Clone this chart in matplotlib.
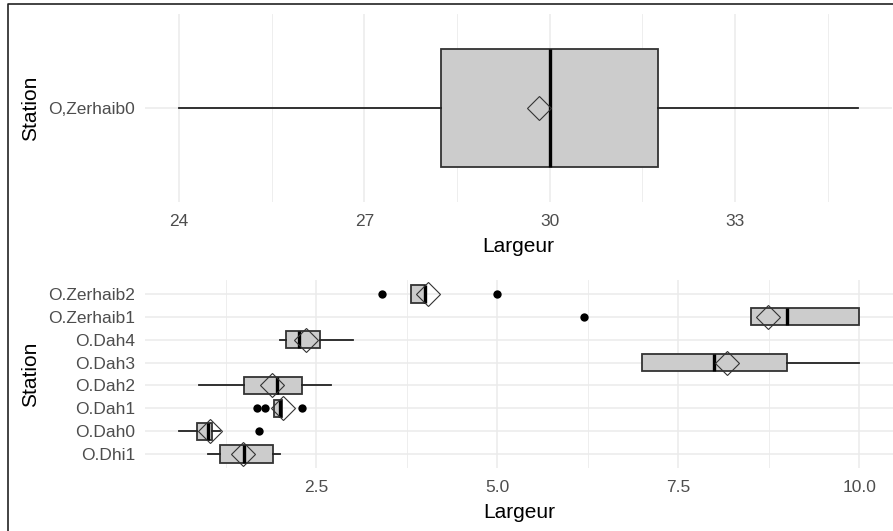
import matplotlib
matplotlib.use('Agg')
import matplotlib.pyplot as plt
from matplotlib.lines import Line2D
from matplotlib.ticker import FixedLocator

plt.rcParams['font.family'] = ['Liberation Sans', 'DejaVu Sans']

# ---------------- data ----------------
# top panel
top_stations = ['O,Zerhaib0']
top_whislo = [24.0]
top_q1 = [28.25]
top_med = [30.0]
top_q3 = [31.75]
top_whishi = [35.0]
top_mean = [29.83]
top_fliers = [[]]
top_ticks = [24, 27, 30, 33]
top_minor = [25.5, 28.5, 31.5, 34.5]

# bottom panel (listed bottom -> top)
stations = ['O.Dhi1', 'O.Dah0', 'O.Dah1', 'O.Dah2', 'O.Dah3', 'O.Dah4',
            'O.Zerhaib1', 'O.Zerhaib2']
whislo = [1.00, 0.60, 1.91, 0.88, 7.0, 2.00, 8.5, 3.8]
q1     = [1.17, 0.85, 1.91, 1.50, 7.0, 2.08, 8.5, 3.8]
med    = [1.50, 1.00, 1.99, 1.95, 8.0, 2.26, 9.0, 4.0]
q3     = [1.90, 1.05, 2.02, 2.30, 9.0, 2.55, 10.0, 4.0]
whishi = [2.00, 1.17, 2.02, 2.70, 10.0, 3.00, 10.0, 4.0]
means  = [1.49, 1.03, 2.04, 1.88, 8.18, 2.36, 8.74, 4.04]
fliers = [[], [1.70], [1.68, 1.79, 2.30], [], [], [], [6.2], [3.4, 5.0]]
bot_ticks = [2.5, 5.0, 7.5, 10.0]
bot_tick_labels = ['2.5', '5.0', '7.5', '10.0']
bot_minor = [1.25, 3.75, 6.25, 8.75]

# ---------------- style ----------------
W, H = 893, 531
fig = plt.figure(figsize=(W / 100, H / 100), dpi=100)

box_kw = dict(
    orientation='horizontal', widths=0.75, patch_artist=True, showcaps=False,
    showmeans=True,
    boxprops=dict(facecolor='#CCCCCC', edgecolor='#333333', linewidth=1.3),
    medianprops=dict(color='black', linewidth=2.4, solid_capstyle='butt'),
    whiskerprops=dict(color='#222222', linewidth=1.3),
    flierprops=dict(marker='o', markerfacecolor='black', markeredgecolor='none',
                    markersize=6),
    meanprops=dict(marker='D', markerfacecolor='none', markeredgecolor='#333333',
                   markersize=12, markeredgewidth=0.8),
)


def make_stats(lo, a, m, b, hi, mn, fl):
    return [dict(whislo=lo[i], q1=a[i], med=m[i], q3=b[i], whishi=hi[i],
                 mean=mn[i], fliers=fl[i]) for i in range(len(m))]


def style_axes(ax, xticks, xlabels, xminor, xlim, ylim, ylabels):
    ax.set_xlim(*xlim)
    ax.set_ylim(*ylim)
    ax.xaxis.set_major_locator(FixedLocator(xticks))
    ax.set_xticklabels(xlabels)
    ax.xaxis.set_minor_locator(FixedLocator(xminor))
    ax.set_yticks(range(1, len(ylabels) + 1))
    ax.set_yticklabels(ylabels)
    for s in ax.spines.values():
        s.set_visible(False)
    ax.tick_params(axis='both', which='both', length=0, labelsize=12.5,
                   labelcolor='#4D4D4D')
    ax.tick_params(axis='x', pad=9)
    ax.tick_params(axis='y', pad=7)
    ax.grid(True, which='major', color='#EBEBEB', linewidth=1.1)
    ax.grid(True, which='minor', axis='x', color='#EBEBEB', linewidth=0.6)
    ax.set_axisbelow(True)
    ax.set_xlabel('Largeur', fontsize=15, color='black', labelpad=5.5)
    ax.set_ylabel('Station', fontsize=15, color='black', labelpad=6)


# top axes
ax1 = fig.add_axes([145 / W, 1 - 201.7 / H, 747.4 / W, 187.7 / H])
ax1.bxp(make_stats(top_whislo, top_q1, top_med, top_q3, top_whishi,
                   top_mean, top_fliers), positions=[1], **box_kw)
tr = top_whishi[0] - top_whislo[0]
style_axes(ax1, top_ticks, [str(t) for t in top_ticks], top_minor,
           (top_whislo[0] - 0.05 * tr, top_whishi[0] + 0.05 * tr), (0.4, 1.6),
           top_stations)

# bottom axes
ax2 = fig.add_axes([145 / W, 1 - 467.7 / H, 748.2 / W, 187.4 / H])
ax2.bxp(make_stats(whislo, q1, med, q3, whishi, means, fliers),
        positions=list(range(1, len(stations) + 1)), **box_kw)
allv = whislo + whishi + [v for f in fliers for v in f]
lo, hi = min(allv), max(allv)
br = hi - lo
style_axes(ax2, bot_ticks, bot_tick_labels, bot_minor,
           (lo - 0.05 * br, hi + 0.05 * br), (0.4, len(stations) + 0.6), stations)

# outer frame (left and top edges visible)
fig.add_artist(Line2D([7.5 / W, 7.5 / W, 1.0], [0.0, 1 - 4.3 / H, 1 - 4.3 / H],
                      transform=fig.transFigure, color='#222222', linewidth=1.2))

fig.savefig('out.png', dpi=100)
